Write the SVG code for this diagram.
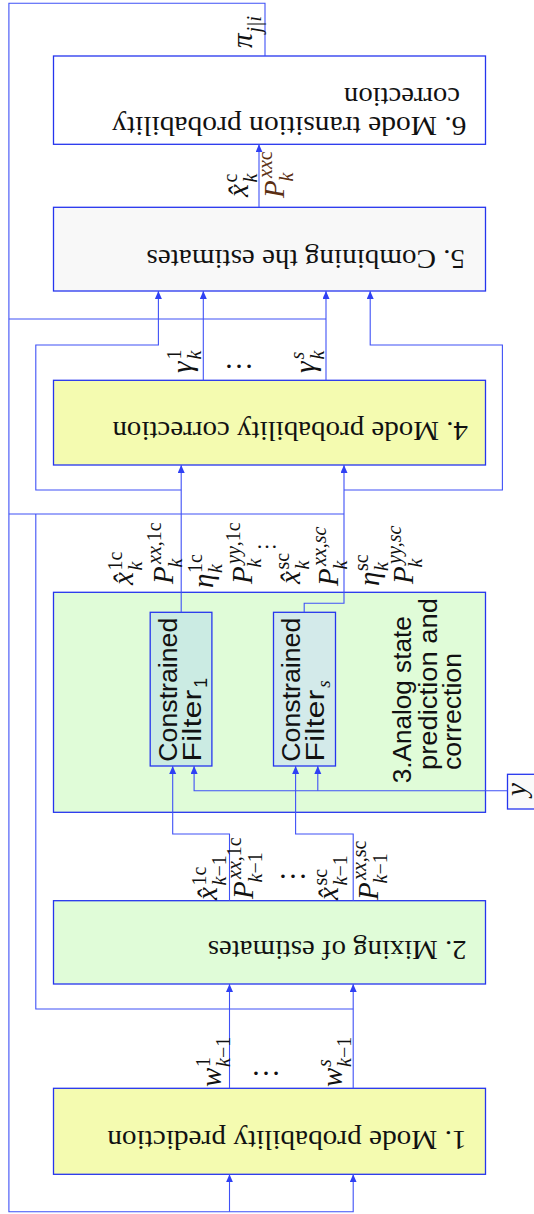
<svg xmlns="http://www.w3.org/2000/svg" width="534" height="1214" viewBox="0 0 534 1214">
<style>
.box{stroke:#2535ee;stroke-width:1.3}
.t{font-family:"Liberation Serif","DejaVu Serif",serif;font-size:28px;fill:#111}
.sf{font-family:"Liberation Sans","DejaVu Sans",sans-serif;font-size:26px;fill:#111}
.m{font-family:"Liberation Serif","DejaVu Serif",serif;font-size:29px;font-style:italic;fill:#111}
.s{font-family:"Liberation Serif","DejaVu Serif",serif;font-size:20px;fill:#111}
.i{font-style:italic}
.br{fill:#5a2e12}
.dots{font-family:"Liberation Serif","DejaVu Serif",serif;font-size:30px;fill:#111}
</style>
<defs>
<marker id="ah" markerUnits="userSpaceOnUse" markerWidth="9" markerHeight="8" refX="8" refY="3.5" orient="auto">
<path d="M0,0 L8,3.5 L0,7 z" fill="#2f40f4"/>
</marker>
</defs>

<g id="n3">
<rect class="box" x="53.5" y="592.3" width="432" height="220" fill="#e0fcd8"/>
<g transform="translate(411,783.3) rotate(-90)">
<text class="sf" x="0" y="0" textLength="167" lengthAdjust="spacingAndGlyphs">3.Analog state</text>
<text class="sf" x="13.3" y="26" textLength="172" lengthAdjust="spacingAndGlyphs">prediction and</text>
<text class="sf" x="13.3" y="50" textLength="117" lengthAdjust="spacingAndGlyphs">correction</text>
</g>
</g>
<g id="n6">
<rect class="box" x="53.5" y="56" width="432" height="88.3" fill="#ffffff"/>
<text class="t" transform="translate(466.6,116.5) rotate(180)" textLength="354.6" lengthAdjust="spacingAndGlyphs">6. Mode transition probability</text>
<text class="t" transform="translate(460,88) rotate(180)" textLength="116" lengthAdjust="spacingAndGlyphs">correction</text>
</g>
<g id="n5">
<rect class="box" x="53.5" y="207.3" width="432" height="83.7" fill="#f8f8f8"/>
<text class="t" transform="translate(465,250) rotate(180)" textLength="318.5" lengthAdjust="spacingAndGlyphs">5. Combining the estimates</text>
</g>
<g id="n4">
<rect class="box" x="53.5" y="380.3" width="432" height="84.7" fill="#f4fbb0"/>
<text class="t" transform="translate(468,421.5) rotate(180)" textLength="355.6" lengthAdjust="spacingAndGlyphs">4. Mode probability correction</text>
</g>
<g id="n2">
<rect class="box" x="53.5" y="900.7" width="432" height="83.3" fill="#e0fcd8"/>
<text class="t" transform="translate(466.6,941) rotate(180)" textLength="258.8" lengthAdjust="spacingAndGlyphs">2. Mixing of estimates</text>
</g>
<g id="n1">
<rect class="box" x="53.5" y="1088.3" width="432" height="86" fill="#f4fbb0"/>
<text class="t" transform="translate(466.6,1131) rotate(180)" textLength="359.3" lengthAdjust="spacingAndGlyphs">1. Mode probability prediction</text>
</g>
<g id="filter1">
<rect class="box" x="150.2" y="612.3" width="61.7" height="153.7" fill="#cbebe3"/>
<g transform="translate(176.5,761.7) rotate(-90)">
<text class="sf" x="0" y="0" textLength="144" lengthAdjust="spacingAndGlyphs">Constrained</text>
<text class="sf" x="0" y="24" textLength="72" lengthAdjust="spacingAndGlyphs">Filter</text>
<text class="sf" x="74" y="30" style="font-size:18px">1</text>
</g>
</g>
<g id="filters">
<rect class="box" x="273.5" y="612.3" width="62" height="153.7" fill="#d3eaea"/>
<g transform="translate(299.8,761.7) rotate(-90)">
<text class="sf" x="0" y="0" textLength="144" lengthAdjust="spacingAndGlyphs">Constrained</text>
<text class="sf" x="0" y="24" textLength="72" lengthAdjust="spacingAndGlyphs">Filter</text>
<text class="s i" x="74" y="30" style="font-size:19px">s</text>
</g>
</g>
<g id="ybox">
<rect class="box" x="507.5" y="774.3" width="32" height="34.7" fill="#fafafa"/>
<text class="m" transform="translate(526,796) rotate(-90)">y</text>
</g>

<g id="connectors" fill="none" stroke="#3f51f6" stroke-width="1.1">
<path d="M265,56 V3.3 H8.9 V1211.7 H353.2 V1174.3" marker-end="url(#ah)"/>
<path d="M229.5,1211.7 V1174.3" marker-end="url(#ah)"/>
<path d="M8.9,319 H326"/>
<path d="M8.9,514 H344"/>
<path d="M35.8,514 V1009 H353.2"/>
<path d="M229.5,1088.3 V984" marker-end="url(#ah)"/>
<path d="M353.2,1088.3 V984" marker-end="url(#ah)"/>
<path d="M229.5,900.7 V834 H172.7 V766" marker-end="url(#ah)"/>
<path d="M353.2,900.7 V834 H295.6 V766" marker-end="url(#ah)"/>
<path d="M507.5,790.7 H194.1 V766" marker-end="url(#ah)"/>
<path d="M317.8,790.7 V766" marker-end="url(#ah)"/>
<path d="M181.2,612.3 V465" marker-end="url(#ah)"/>
<path d="M304.2,612.3 V603.3 H344 V465" marker-end="url(#ah)"/>
<path d="M181.2,490 H35.8 V345 H158.4 V291" marker-end="url(#ah)"/>
<path d="M344,490 H502.4 V345 H370.2 V291" marker-end="url(#ah)"/>
<path d="M203.3,380.3 V291" marker-end="url(#ah)"/>
<path d="M326,380.3 V291" marker-end="url(#ah)"/>
<path d="M259,207.3 V144.3" marker-end="url(#ah)"/>
</g>

<g id="labels">
<g transform="translate(252,48) rotate(-90)"><text class="m">π</text><text class="s i" x="15.5" y="9">j|i</text></g>
<g transform="translate(248,197) rotate(-90)"><text class="m">x̂</text><text class="s" x="14.5" y="-11">c</text><text class="s i" x="14.5" y="9">k</text></g>
<g transform="translate(284,198) rotate(-90)"><text class="m br">P</text><text class="s br" x="20" y="-12"><tspan class="i">xx</tspan>c</text><text class="s i br" x="16.5" y="9">k</text></g>
<g transform="translate(192,373) rotate(-90)"><text class="m">γ</text><text class="s" x="13.5" y="-11">1</text><text class="s i" x="13.5" y="9">k</text></g>
<g transform="translate(315,373) rotate(-90)"><text class="m">γ</text><text class="s i" x="13.5" y="-11">s</text><text class="s i" x="13.5" y="9">k</text></g>
<text class="dots" x="239" y="368" text-anchor="middle">…</text>
<g transform="translate(133,585) rotate(-90)"><text class="m">x̂</text><text class="s" x="14.5" y="-11">1c</text><text class="s i" x="14.5" y="9">k</text></g>
<g transform="translate(173,584) rotate(-90)"><text class="m">P</text><text class="s" x="20" y="-12"><tspan class="i">xx</tspan>,1c</text><text class="s i" x="16.5" y="9">k</text></g>
<g transform="translate(213,588) rotate(-90)"><text class="m">η</text><text class="s" x="15" y="-11">1c</text><text class="s i" x="15" y="9">k</text></g>
<g transform="translate(251.5,584) rotate(-90)"><text class="m">P</text><text class="s" x="20" y="-12"><tspan class="i">yy</tspan>,1c</text><text class="s i" x="16.5" y="9">k</text></g>
<text class="dots" x="267" y="548" text-anchor="middle" style="font-size:22px">…</text>
<g transform="translate(300,584) rotate(-90)"><text class="m">x̂</text><text class="s" x="14.5" y="-11">sc</text><text class="s i" x="14.5" y="9">k</text></g>
<g transform="translate(338,586) rotate(-90)"><text class="m">P</text><text class="s i" x="20" y="-12">xx,sc</text><text class="s i" x="16.5" y="9">k</text></g>
<g transform="translate(379,586) rotate(-90)"><text class="m">η</text><text class="s" x="15" y="-11">sc</text><text class="s i" x="15" y="9">k</text></g>
<g transform="translate(413,584) rotate(-90)"><text class="m">P</text><text class="s i" x="20" y="-12">yy,sc</text><text class="s i" x="16.5" y="9">k</text></g>
<g transform="translate(217,900) rotate(-90)"><text class="m">x̂</text><text class="s" x="14.5" y="-11">1c</text><text class="s" x="14.5" y="9"><tspan class="i">k</tspan>−1</text></g>
<g transform="translate(253,899) rotate(-90)"><text class="m">P</text><text class="s" x="20" y="-12"><tspan class="i">xx</tspan>,1c</text><text class="s" x="16.5" y="9"><tspan class="i">k</tspan>−1</text></g>
<text class="dots" x="293" y="878" text-anchor="middle">…</text>
<g transform="translate(338,900) rotate(-90)"><text class="m">x̂</text><text class="s" x="14.5" y="-11">sc</text><text class="s" x="14.5" y="9"><tspan class="i">k</tspan>−1</text></g>
<g transform="translate(378,900) rotate(-90)"><text class="m">P</text><text class="s" x="20" y="-12"><tspan class="i">xx</tspan>,sc</text><text class="s" x="16.5" y="9"><tspan class="i">k</tspan>−1</text></g>
<g transform="translate(221,1087) rotate(-90)"><text class="m">w</text><text class="s" x="20" y="-11">1</text><text class="s" x="20" y="9"><tspan class="i">k</tspan>−1</text></g>
<text class="dots" x="266" y="1075" text-anchor="middle">…</text>
<g transform="translate(342,1087) rotate(-90)"><text class="m">w</text><text class="s i" x="20" y="-11">s</text><text class="s" x="20" y="9"><tspan class="i">k</tspan>−1</text></g>
</g>
</svg>
